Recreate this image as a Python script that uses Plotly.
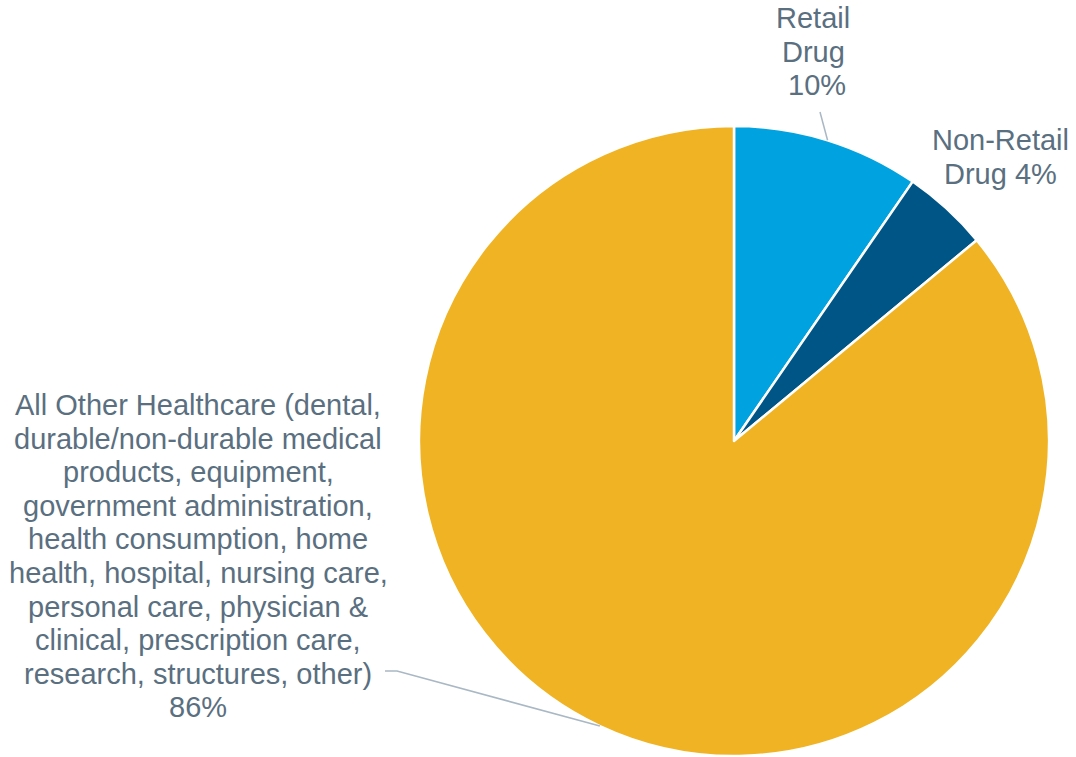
import math
import plotly.graph_objects as go

# ---- data ----
categories = ["Retail Drug", "Non-Retail Drug", "All Other Healthcare"]
values = [9.6, 4.4, 86.0]
colors = ["#00A3E0", "#005587", "#F0B323"]
label_lines = [
    ["Retail", "Drug", " {pct}%"],
    ["Non-Retail", "Drug {pct}%"],
    ["All Other Healthcare (dental,",
     "durable/non-durable medical",
     "products, equipment,",
     "government administration,",
     "health consumption, home",
     "health, hospital, nursing care,",
     "personal care, physician &",
     "clinical, prescription care,",
     "research, structures, other)",
     "{pct}%"],
]

# ---- layout constants (pixels) ----
W, H = 1076, 757
CX, CY, R = 734, 441, 315
TEXT_COLOR = "#5A6F80"
LINE_COLOR = "#A9B8C4"
FONT = "Liberation Sans, Arial, sans-serif"
FS = 29
LH = 33.6

label_pos = [(813, 18), (1000, 140), (198, 405)]
# label-side end of leader line (None = no leader)
leader_end = [[(820, 112)], None, [(397, 671), (385, 671)]]


def px(x):
    return x / W


def py(y):
    return 1 - y / H


fig = go.Figure(go.Pie(
    labels=categories,
    values=values,
    sort=False,
    direction="clockwise",
    rotation=0,
    textinfo="none",
    hoverinfo="label+percent",
    marker=dict(colors=colors, line=dict(color="white", width=2.5)),
    domain=dict(x=[px(CX - R), px(CX + R)], y=[py(CY + R), py(CY - R)]),
    showlegend=False,
))

total = sum(values)
annotations = []
shapes = []
cum = 0.0
for i, v in enumerate(values):
    pct = round(v / total * 100)
    lx, ly = label_pos[i]
    for j, line in enumerate(label_lines[i]):
        annotations.append(dict(
            x=px(lx), y=py(ly + j * LH), xref="paper", yref="paper",
            text=line.format(pct=pct), showarrow=False,
            xanchor="center", yanchor="middle",
            font=dict(family=FONT, size=FS, color=TEXT_COLOR),
        ))
    mid = (cum + v / 2) / total * 2 * math.pi
    cum += v
    if leader_end[i]:
        ex = CX + R * math.sin(mid)
        ey = CY - R * math.cos(mid)
        pts = [(ex, ey)] + leader_end[i]
        path = "M " + " L ".join(f"{px(a)},{py(b)}" for a, b in pts)
        shapes.append(dict(type="path", xref="paper", yref="paper", path=path,
                           line=dict(color=LINE_COLOR, width=1.5)))

fig.update_layout(
    width=W, height=H,
    margin=dict(l=0, r=0, t=0, b=0),
    paper_bgcolor="white", plot_bgcolor="white",
    annotations=annotations, shapes=shapes,
)

fig.write_html("out.html")
